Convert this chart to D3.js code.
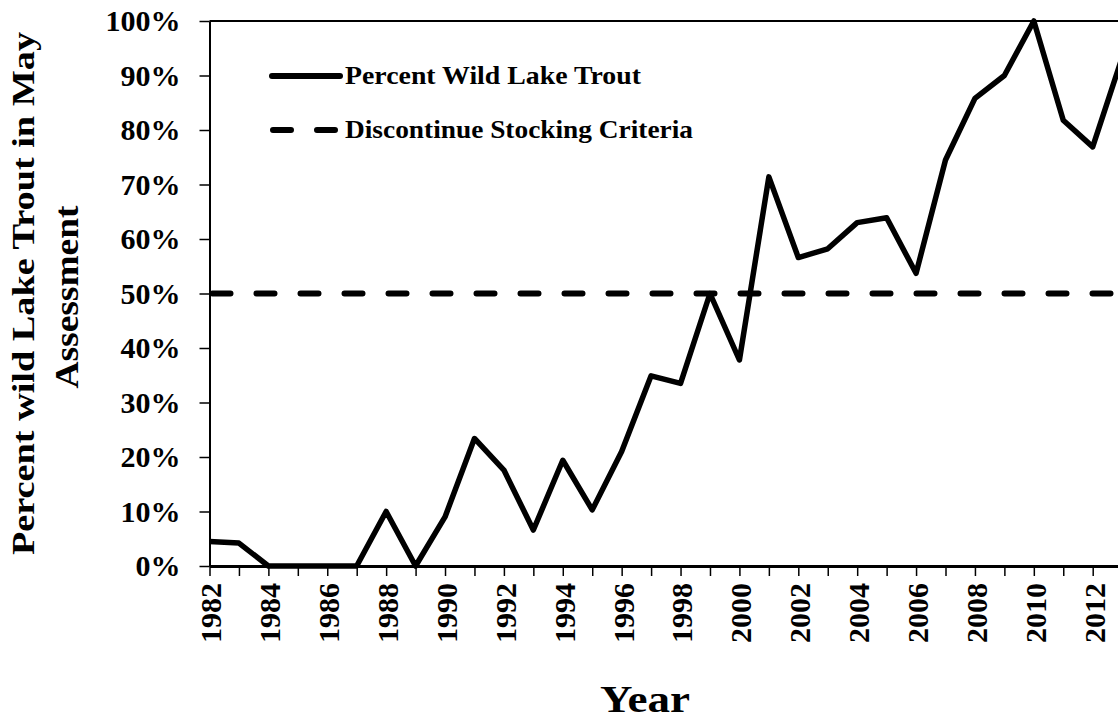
<!DOCTYPE html>
<html>
<head>
<meta charset="utf-8">
<script src="https://cdn.jsdelivr.net/npm/d3@7"></script>
<style>
    body { margin: 0; background: #fff; }
    svg { display: block; font-family: "Liberation Serif", "Times New Roman", serif; font-weight: bold; }
</style>
</head>
<body>
<svg id="chart" width="1118" height="720"></svg>
<script>

// Data
const years = d3.range(1982, 2014);
const pctWild = [
    0.045, 0.042, 0.0, 0.0, 0.0, 0.0, 0.10, 0.0, 0.09, 0.234,
    0.176, 0.066, 0.194, 0.103, 0.21, 0.349, 0.335, 0.50, 0.378, 0.714,
    0.566, 0.582, 0.63, 0.639, 0.537, 0.745, 0.858, 0.90, 1.0, 0.818,
    0.769, 0.933
];
const criteria = 0.5;
const yTicks = d3.range(0, 1.01, 0.1);
const legendLabels = ['Percent Wild Lake Trout', 'Discontinue Stocking Criteria'];

// Layout
const WIDTH = 1118, HEIGHT = 720;
const X0 = 209.5, STEP = 29.44;
const TOP = 21, BOTTOM = 566;
const LEGEND_LEN = [296, 348];

const svg = d3.select('#chart');

let x = d3.scaleLinear()
    .domain([1982, 2013])
    .range([X0, X0 + 31 * STEP]);

let y = d3.scaleLinear()
    .domain([0, 1])
    .range([BOTTOM, TOP]);

// top border
svg.append('line')
    .attr('x1', X0).attr('x2', WIDTH)
    .attr('y1', TOP).attr('y2', TOP)
    .attr('stroke', '#000').attr('stroke-width', 2);

// Y axis
let yAxis = svg.append('g')
    .attr('transform', 'translate(' + X0 + ',0)')
    .call(d3.axisLeft(y).tickValues(yTicks).tickFormat(d3.format('.0%')).tickSize(10).tickSizeOuter(0))
    .attr('font-family', null)
    .attr('font-size', 30);
yAxis.select('.domain').attr('stroke-width', 2);
yAxis.selectAll('.tick line').attr('stroke-width', 1.5);
yAxis.selectAll('.tick text')
    .attr('x', -29)
    .attr('fill', '#000');

// X axis
let xAxis = svg.append('g')
    .attr('transform', 'translate(0,' + BOTTOM + ')')
    .call(d3.axisBottom(x).tickValues(years).tickFormat((d) => d % 2 === 0 ? d : '').tickSize(10).tickSizeOuter(0))
    .attr('font-family', null)
    .attr('font-size', 30);
xAxis.select('.domain').attr('stroke-width', 3);
xAxis.selectAll('.tick line').attr('stroke-width', 1.5);
xAxis.selectAll('.tick text')
    .attr('fill', '#000')
    .attr('text-anchor', 'end')
    .attr('transform', 'rotate(-90)')
    .attr('x', -17)
    .attr('y', 0)
    .attr('dy', '0.38em');

// Criteria line (dashed)
svg.append('line')
    .attr('x1', x(1982) + 3).attr('x2', WIDTH + 20)
    .attr('y1', y(criteria)).attr('y2', y(criteria))
    .attr('stroke', '#000')
    .attr('stroke-width', 6)
    .attr('stroke-linecap', 'round')
    .attr('stroke-dasharray', '18,26');

// Percent wild line
let line = d3.line()
    .x((d, i) => x(years[i]))
    .y((d) => y(d));

svg.append('path')
    .datum(pctWild)
    .attr('d', line)
    .attr('fill', 'none')
    .attr('stroke', '#000')
    .attr('stroke-width', 5.5)
    .attr('stroke-linejoin', 'round');

// Legend
let legend = svg.append('g');
legend.append('line')
    .attr('x1', 272).attr('x2', 340)
    .attr('y1', 76).attr('y2', 76)
    .attr('stroke', '#000').attr('stroke-width', 6).attr('stroke-linecap', 'round');
legend.append('line')
    .attr('x1', 273).attr('x2', 340)
    .attr('y1', 130).attr('y2', 130)
    .attr('stroke', '#000').attr('stroke-width', 6).attr('stroke-linecap', 'round')
    .attr('stroke-dasharray', '18,26');
legend.selectAll('text.legend-label')
    .data(legendLabels)
    .enter()
    .append('text')
        .attr('class', 'legend-label')
        .attr('x', 345)
        .attr('y', (d, i) => 84 + i * 54)
        .attr('font-size', 25)
        .attr('textLength', (d, i) => LEGEND_LEN[i])
        .attr('lengthAdjust', 'spacingAndGlyphs')
        .text((d) => d);

// Axis titles (stretched along their length like the source)
svg.append('text')
    .attr('transform', 'translate(34,293.5) rotate(-90)')
    .attr('text-anchor', 'middle')
    .attr('font-size', 32)
    .attr('textLength', 523)
    .attr('lengthAdjust', 'spacingAndGlyphs')
    .text('Percent wild Lake Trout  in May');
svg.append('text')
    .attr('transform', 'translate(78,297) rotate(-90)')
    .attr('text-anchor', 'middle')
    .attr('font-size', 33)
    .attr('textLength', 183)
    .attr('lengthAdjust', 'spacingAndGlyphs')
    .text('Assessment');
svg.append('text')
    .attr('x', 645)
    .attr('y', 712)
    .attr('text-anchor', 'middle')
    .attr('font-size', 38)
    .attr('textLength', 90)
    .attr('lengthAdjust', 'spacingAndGlyphs')
    .text('Year');

</script>
</body>
</html>
